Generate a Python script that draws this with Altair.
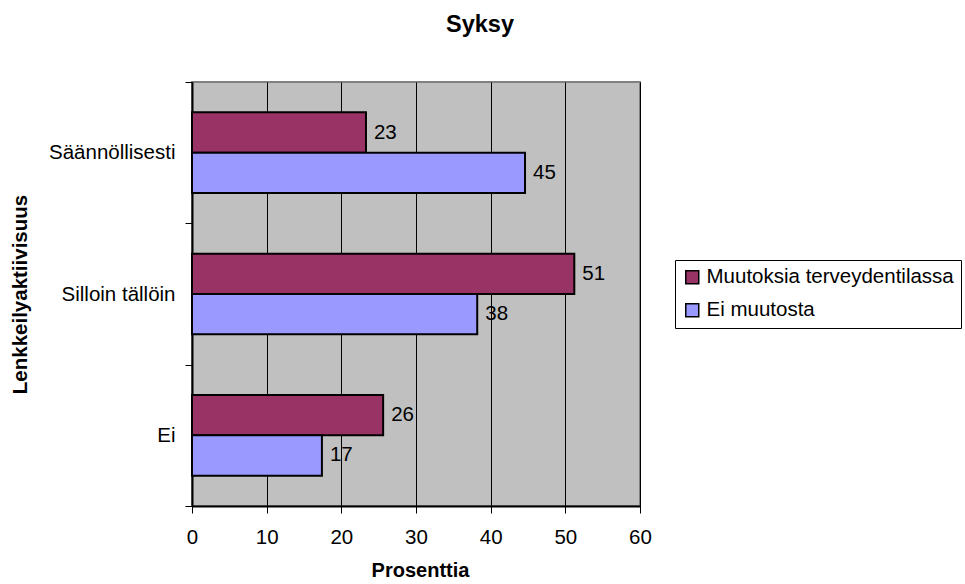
import altair as alt
import pandas as pd

categories = ["Säännöllisesti", "Silloin tällöin", "Ei"]
series = ["Muutoksia terveydentilassa", "Ei muutosta"]
muutoksia = [23.3, 51.2, 25.6]
ei_muutosta = [44.6, 38.2, 17.4]
x_ticks = [0, 10, 20, 30, 40, 50, 60]
colors = ["#993366", "#9999FF"]

rows = []
for i, c in enumerate(categories):
    rows.append({"cat": c, "series": series[0], "value": muutoksia[i]})
    rows.append({"cat": c, "series": series[1], "value": ei_muutosta[i]})
df = pd.DataFrame(rows)

FONT = "Liberation Sans"

y_enc = alt.Y(
    "cat:N",
    sort=categories,
    scale=alt.Scale(paddingInner=0, paddingOuter=0),
    axis=alt.Axis(
        title="Lenkkeilyaktiivisuus",
        titleFont=FONT, titleFontSize=20.5, titleFontWeight="bold", titleColor="black",
        titleAngle=-90, titleAlign="center", titleBaseline="middle",
        titleX=-171.5, titleY=212,
        labelFont=FONT, labelFontSize=20.5, labelColor="black", labelLimit=400,
        labelPadding=10, tickSize=7, tickColor="black", tickWidth=1,
        tickBand="extent", domainColor="black", domainWidth=2, grid=False,
    ),
)
yoff = alt.YOffset("series:N", sort=series,
                   scale=alt.Scale(paddingInner=0, paddingOuter=0.753))

x_enc = alt.X(
    "value:Q",
    scale=alt.Scale(domain=[0, 60], nice=False),
    axis=alt.Axis(
        values=x_ticks, title="Prosenttia",
        titleFont=FONT, titleFontSize=20, titleFontWeight="bold", titleColor="black",
        titleBaseline="middle", titleX=228, titleY=64,
        labelFont=FONT, labelFontSize=20.5, labelColor="black", labelPadding=14,
        labelFlush=False,
        tickSize=7, tickColor="black", tickWidth=1,
        domainColor="black", domainWidth=2,
        grid=True, gridColor="black", gridWidth=1, gridOpacity=1,
    ),
)

bars = alt.Chart(df).mark_bar(stroke="black", strokeWidth=2, opacity=1).encode(
    x=x_enc,
    y=y_enc,
    yOffset=yoff,
    color=alt.Color(
        "series:N", sort=series,
        scale=alt.Scale(domain=series, range=colors),
        legend=alt.Legend(
            title=None, orient="none", legendX=483, legendY=178,
            strokeColor="black", fillColor="white", padding=7,
            rowPadding=12, symbolType="square", symbolSize=169,
            symbolStrokeColor="black", symbolStrokeWidth=1.5, symbolOpacity=1,
            labelFont=FONT, labelFontSize=20.5, labelColor="black",
            labelLimit=400, labelOffset=4,
        ),
    ),
)

text = alt.Chart(df).mark_text(
    align="left", baseline="middle", dx=8, font=FONT, fontSize=20.5, color="black"
).encode(
    x=alt.X("value:Q"),
    y=alt.Y("cat:N", sort=categories),
    yOffset=alt.YOffset("series:N", sort=series),
    text=alt.Text("value:Q", format=".0f"),
)

chart = (
    alt.layer(bars, text)
    .properties(
        width=448,
        height=424,
        autosize=alt.AutoSizeParams(type="none"),
        padding={"left": 192, "top": 82, "right": 325, "bottom": 78},
        title=alt.TitleParams(
            "Syksy", font=FONT, fontSize=23.5, fontWeight="bold", color="black",
            anchor="middle", frame="group", dx=64, baseline="alphabetic", offset=17,
        ),
        background="white",
    )
    .configure_view(fill="#C0C0C0", stroke="#808080", strokeWidth=2)
)

chart.save("out.html", embed_options={"renderer": "svg", "actions": False})
